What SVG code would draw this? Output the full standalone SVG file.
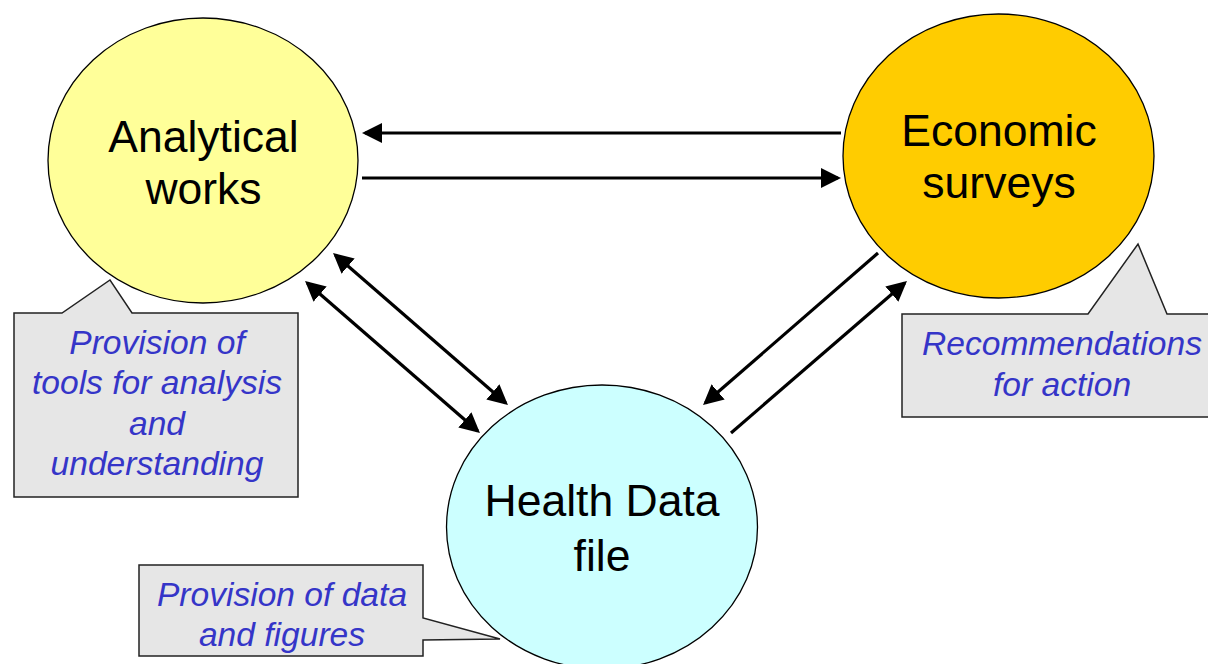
<svg xmlns="http://www.w3.org/2000/svg" width="1208" height="664" viewBox="0 0 1208 664">
<defs>
<style>
.node{stroke:#000;stroke-width:1.3}
.lbl{font-family:"Liberation Sans",Arial,sans-serif;font-size:44.5px;fill:#000;text-anchor:middle}
.call{fill:#e6e6e6;stroke:#222;stroke-width:1.5;stroke-linejoin:miter}
.ctext{font-family:"Liberation Sans",Arial,sans-serif;font-size:33.6px;font-style:italic;fill:#3535c8;text-anchor:middle}
.conn{stroke:#000;stroke-width:3.2;fill:none}
</style>
<marker id="ah" viewBox="0 0 20 20" markerWidth="20" markerHeight="20" markerUnits="userSpaceOnUse" refX="17" refY="10" orient="auto-start-reverse">
<path d="M0,0 L20,10 L0,20 z" fill="#000"/>
</marker>
</defs>
<rect width="1208" height="664" fill="#fff"/>

<g id="node-analytical">
<ellipse class="node" cx="203" cy="160.5" rx="155" ry="142.5" fill="#ffff99"/>
<text class="lbl" x="203.5" y="152">Analytical</text>
<text class="lbl" x="203.5" y="204">works</text>
</g>

<g id="node-economic">
<ellipse class="node" cx="998.5" cy="156" rx="155.5" ry="142" fill="#ffcc00"/>
<text class="lbl" x="999" y="146">Economic</text>
<text class="lbl" x="999" y="198">surveys</text>
</g>

<g id="node-health">
<ellipse class="node" cx="602" cy="527" rx="155.5" ry="142" fill="#ccffff"/>
<text class="lbl" x="602" y="516">Health Data</text>
<text class="lbl" x="602" y="571">file</text>
</g>

<g id="callout-analytical">
<path class="call" d="M14,313 L62,313 L110,280 L132,313 L298,313 L298,497 L14,497 Z"/>
<text class="ctext" x="157" y="354">Provision of</text>
<text class="ctext" x="157" y="394">tools for analysis</text>
<text class="ctext" x="157" y="435">and</text>
<text class="ctext" x="157" y="475">understanding</text>
</g>

<g id="callout-economic">
<path class="call" d="M902,314 L1088,314 L1138,244 L1167,314 L1222,314 L1222,417 L902,417 Z"/>
<text class="ctext" x="1062" y="355">Recommendations</text>
<text class="ctext" x="1062" y="396">for action</text>
</g>

<g id="callout-health">
<path class="call" d="M139,565 L423,565 L423,618 L500,639 L423,640 L423,656 L139,656 Z"/>
<text class="ctext" x="282" y="606">Provision of data</text>
<text class="ctext" x="282" y="646">and figures</text>
</g>

<g id="connectors">
<line class="conn" x1="841" y1="133" x2="365" y2="133" marker-end="url(#ah)"/>
<line class="conn" x1="362" y1="178" x2="838" y2="178" marker-end="url(#ah)"/>
<line class="conn" x1="335.3" y1="255" x2="505.7" y2="403" marker-start="url(#ah)" marker-end="url(#ah)"/>
<line class="conn" x1="307.3" y1="283" x2="477.7" y2="431" marker-start="url(#ah)" marker-end="url(#ah)"/>
<line class="conn" x1="878" y1="253" x2="705.3" y2="403" marker-end="url(#ah)"/>
<line class="conn" x1="731" y1="433" x2="904.7" y2="283" marker-end="url(#ah)"/>
</g>
</svg>
